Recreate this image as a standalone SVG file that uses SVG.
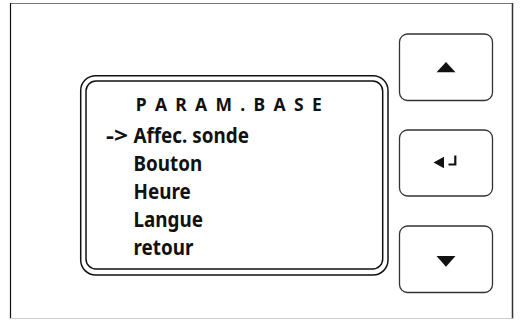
<svg xmlns="http://www.w3.org/2000/svg" width="521" height="320" viewBox="0 0 521 320">
<style>
.t{font-family:"Noto Sans","Open Sans",sans-serif;font-weight:bold;font-size:20.5px;fill:#111}
.ttl{font-size:17.5px}
.btn{fill:#fff;stroke:#333;stroke-width:1.3}
.scr{fill:none;stroke:#111;stroke-width:1.5}
.ico{fill:#111}
</style>
<rect width="521" height="320" fill="#fff"/>
<g id="frame">
<line x1="10" y1="3.5" x2="513" y2="3.5" stroke="#777" stroke-width="1"/>
<line x1="10.5" y1="3" x2="10.5" y2="319" stroke="#111" stroke-width="1.2"/>
<line x1="512.5" y1="3" x2="512.5" y2="319" stroke="#333" stroke-width="1.5"/>
<line x1="10" y1="318.5" x2="513" y2="318.5" stroke="#ccc" stroke-width="1"/>
</g>
<g id="display">
<rect class="scr" x="80.7" y="75.7" width="307.3" height="199.3" rx="15"/>
<rect class="scr" x="86" y="81" width="296.7" height="188" rx="10"/>
<text class="t ttl" x="135.7" y="111" textLength="186" lengthAdjust="spacing">P A R A M . B A S E</text>
<text class="t" x="106" y="143" textLength="22" lengthAdjust="spacingAndGlyphs">-&gt;</text>
<g transform="translate(133.5,0) scale(0.92,1)">
<text class="t" x="0" y="143">Affec. sonde</text>
<text class="t" x="0" y="171">Bouton</text>
<text class="t" x="0" y="199.3">Heure</text>
<text class="t" x="0" y="227">Langue</text>
<text class="t" x="0" y="255">retour</text>
</g>
</g>
<g id="btn-up">
<rect class="btn" x="399.5" y="34" width="93" height="66.5" rx="8"/>
<polygon class="ico" points="436.5,72.3 455.5,72.3 446,62"/>
</g>
<g id="btn-enter">
<rect class="btn" x="399.5" y="130" width="93" height="66" rx="8"/>
<polygon class="ico" points="433.5,162.5 444,156.8 444,168.2"/>
<path d="M448.5 164.5 H455.3 V155.5" fill="none" stroke="#111" stroke-width="2.2"/>
</g>
<g id="btn-down">
<rect class="btn" x="399.5" y="226" width="93" height="66.5" rx="8"/>
<polygon class="ico" points="436.5,256 455.5,256 446,266.7"/>
</g>
<g id="connectors"></g>
</svg>
